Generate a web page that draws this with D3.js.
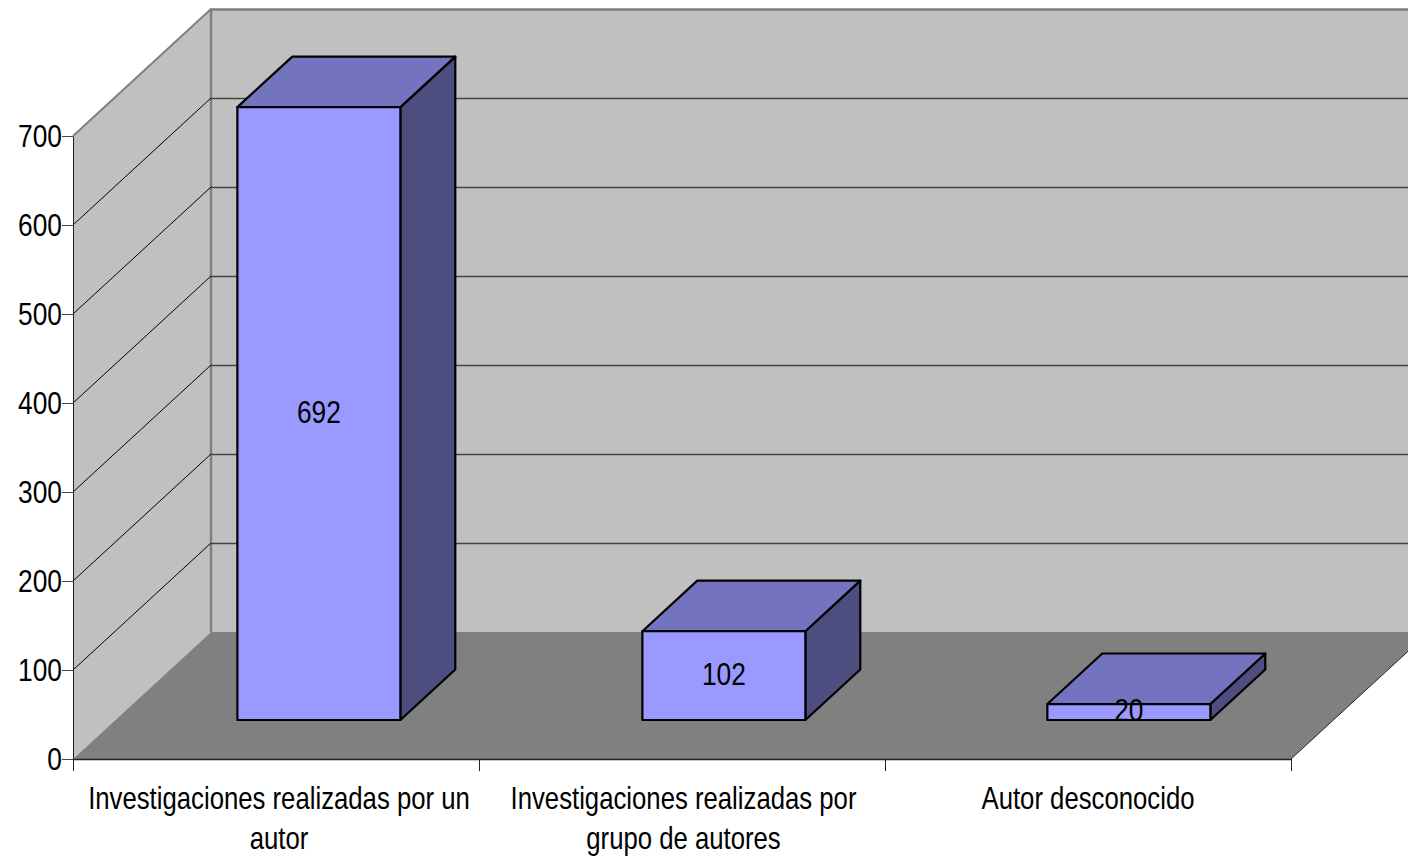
<!DOCTYPE html>
<html><head><meta charset="utf-8">
<script src="https://cdn.jsdelivr.net/npm/d3@7/dist/d3.min.js"></script>
<style>
html,body{margin:0;padding:0;background:#fff;overflow:hidden}
svg{display:block}
text{font-family:"Liberation Sans",Arial,sans-serif;fill:#000}
</style></head><body>
<svg id="c" width="1408" height="856"></svg>
<script>
const categories = [
  ["Investigaciones realizadas por un","autor"],
  ["Investigaciones realizadas por","grupo de autores"],
  ["Autor desconocido"]
];
const values = [692, 102, 20];
const yTicks = [0,100,200,300,400,500,600,700];

const svg = d3.select("#c");
const x = d3.scaleLinear().domain([0,3]).range([73,1291]);
const y = d3.scaleLinear().domain([0,700]).range([759,136]);
const depthX = d3.scaleLinear().domain([0,1]).range([0,138]);
const depthY = d3.scaleLinear().domain([0,1]).range([0,-127]);
const P = (cx,v,z) => [x(cx)+depthX(z), y(v)+depthY(z)];
const line = d3.line();
const poly = pts => line(pts)+"Z";
const squeeze = 0.83, numSqueeze = 0.85;

// walls
svg.append("path").attr("d",poly([P(0,0,1),P(0,700,1),P(3,700,1),P(3,0,1)])).attr("fill","#c0c0c0");
svg.append("path").attr("d",poly([P(0,0,0),P(0,700,0),P(0,700,1),P(0,0,1)])).attr("fill","#c0c0c0");
svg.append("path").attr("d",poly([P(0,0,0),P(3,0,0),P(3,0,1),P(0,0,1)])).attr("fill","#808080");

// wall borders
svg.append("path").attr("d",line([P(0,0,1),P(0,700,1),P(3,700,1)])).attr("transform","translate(0,0.5)").attr("fill","none").attr("stroke","#808080").attr("stroke-width",2.5);
svg.append("path").attr("d",line([P(0,700,0),P(0,700,1)])).attr("fill","none").attr("stroke","#808080").attr("stroke-width",2);

// gridlines
const gv = yTicks.filter(d=>d>0&&d<700);
svg.append("g").selectAll("path").data(gv).join("path")
  .attr("d",d=>line([P(0,d,0),P(0,d,1)])).attr("fill","none").attr("stroke","#000").attr("stroke-width",1);
svg.append("g").selectAll("path").data(gv).join("path")
  .attr("d",d=>line([P(0,d,1),P(3,d,1)])).attr("transform","translate(0,0.5)").attr("fill","none").attr("stroke","#444").attr("stroke-width",1.3);
svg.append("path").attr("d",line([P(3,0,0),P(3,0,1)])).attr("fill","none").attr("stroke","#222").attr("stroke-width",1);

// axes
const gy = svg.append("g").attr("transform","translate(73,0)")
  .call(d3.axisLeft(y).tickValues(yTicks).tickSize(11).tickPadding(0).tickSizeOuter(0));
gy.select(".domain").attr("stroke","#222").attr("stroke-width",1);
gy.selectAll(".tick line").attr("stroke","#444");
gy.selectAll("text").attr("font-size",31).attr("font-family",null).attr("dy","0.34em")
  .attr("x",-11/numSqueeze).attr("transform",`scale(${numSqueeze},1)`);
const gx = svg.append("g").attr("transform","translate(0,759)")
  .call(d3.axisBottom(x).tickValues([0,1,2,3]).tickSize(12).tickFormat("").tickSizeOuter(0));
gx.select(".domain").attr("stroke","#222").attr("stroke-width",1.5);
gx.selectAll(".tick line").attr("stroke","#222");

// bars
const barX = d3.scaleLinear().domain([0,2]).range([195,1005]);
const bw = 163, z0 = 0.307, z1 = 0.705;
const barH = d3.scaleLinear().domain([0,700]).range([-1.8,620]);
const Q = (i,dx,h,z)=>[barX(i)+dx+depthX(z), y(0)-h+depthY(z)];
const bars = svg.append("g").selectAll("g").data(values).join("g");
bars.append("path").attr("d",(d,i)=>poly([Q(i,bw,0,z0),Q(i,bw,0,z1),Q(i,bw,barH(d),z1),Q(i,bw,barH(d),z0)])).attr("fill","#4d4d80");
bars.append("path").attr("d",(d,i)=>poly([Q(i,0,barH(d),z0),Q(i,bw,barH(d),z0),Q(i,bw,barH(d),z1),Q(i,0,barH(d),z1)])).attr("fill","#7373bf");
bars.append("path").attr("d",(d,i)=>poly([Q(i,0,0,z0),Q(i,bw,0,z0),Q(i,bw,barH(d),z0),Q(i,0,barH(d),z0)])).attr("fill","#9999ff");
bars.selectAll("path").attr("stroke","#000").attr("stroke-width",2.2).attr("stroke-linejoin","round");
bars.append("text")
  .attr("transform",`scale(${numSqueeze},1)`)
  .attr("x",(d,i)=>Q(i,bw/2,0,z0)[0]/numSqueeze)
  .attr("y",(d,i)=>(Q(i,0,0,z0)[1]+Q(i,0,barH(d),z0)[1])/2)
  .attr("dy","0.3em").attr("text-anchor","middle").attr("font-size",31)
  .text(d=>d);

// category labels
const labelX = d3.scaleLinear().domain([0,2]).range([279,1088]);
const lab = svg.append("g").attr("transform",`scale(${squeeze},1)`)
  .selectAll("text").data(categories).join("text")
  .attr("text-anchor","middle").attr("font-size",31);
lab.selectAll("tspan").data((d,i)=>d.map(t=>({t,i}))).join("tspan")
  .attr("x",d=>labelX(d.i)/squeeze).attr("y",(d,j)=>809+j*40).text(d=>d.t);
</script>
</body></html>
